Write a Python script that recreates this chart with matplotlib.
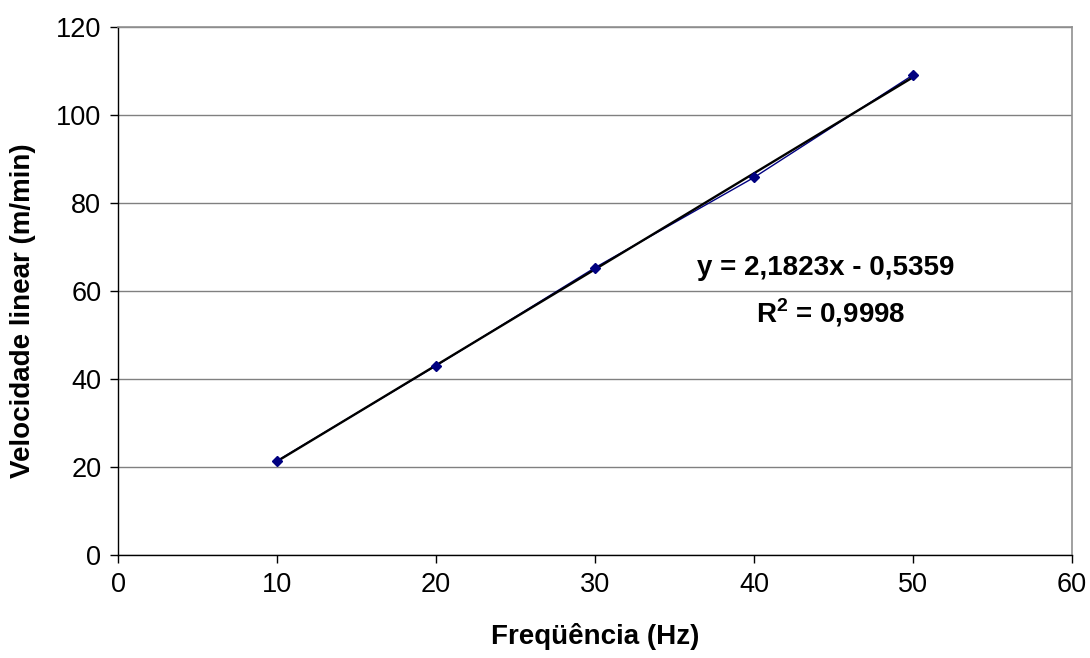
import numpy as np
import matplotlib
matplotlib.use("Agg")
import matplotlib.pyplot as plt

# data
freq = [10, 20, 30, 40, 50]
velocidade = [21.4, 43.0, 65.3, 85.8, 109.1]
slope = 2.1823
intercept = -0.5359
r2 = 0.9998
xticks = [0, 10, 20, 30, 40, 50, 60]
yticks = [0, 20, 40, 60, 80, 100, 120]

plt.rcParams["font.family"] = ["Liberation Sans", "DejaVu Sans"]
plt.rcParams["mathtext.fontset"] = "custom"
plt.rcParams["mathtext.rm"] = "Liberation Sans"
plt.rcParams["mathtext.bf"] = "Liberation Sans:bold"

W, H = 1090, 658
fig = plt.figure(figsize=(W / 100, H / 100), dpi=100)
ax = fig.add_axes([118 / W, 1 - 555 / H, (1072 - 118) / W, (555 - 27) / H])

# series line + trendline + markers
ax.plot(freq, velocidade, color="#000080", lw=1.0, zorder=3)
xt = np.array([min(freq), max(freq)])
ax.plot(xt, slope * xt + intercept, color="black", lw=1.7, zorder=4)
ax.plot(freq, velocidade, ls="none", marker="D", ms=5, color="#000080", zorder=5)

ax.set_xlim(xticks[0], xticks[-1])
ax.set_ylim(yticks[0], yticks[-1])
ax.set_xticks(xticks)
ax.set_yticks(yticks)
ax.tick_params(labelsize=19.5, length=6, width=1, direction="out", pad=6, colors="black")
ax.yaxis.grid(True, color="#808080", lw=1.0)
ax.set_axisbelow(True)

for s in ["top", "right"]:
    ax.spines[s].set_color("#909090")
    ax.spines[s].set_linewidth(1.2)
for s in ["left", "bottom"]:
    ax.spines[s].set_color("black")
    ax.spines[s].set_linewidth(1.0)

eq = "y = " + f"{slope:.4f}".replace(".", ",") + "x - " + f"{abs(intercept):.4f}".replace(".", ",")
ax.text(44.5, 65.2, eq, ha="center", va="center", fontsize=20, fontweight="bold")
ax.text(44.8, 55.0, r"R$^{\mathbf{2}}$ = " + f"{r2:.4f}".replace(".", ","),
        ha="center", va="center", fontsize=20, fontweight="bold")

fig.text(595 / W, 1 - 637 / H, "Freqüência (Hz)", ha="center", va="center",
         fontsize=20, fontweight="bold")
fig.text(23 / W, 1 - 311 / H, "Velocidade linear (m/min)", ha="center", va="center",
         rotation=90, fontsize=20, fontweight="bold")

fig.savefig("out.png", dpi=100)
